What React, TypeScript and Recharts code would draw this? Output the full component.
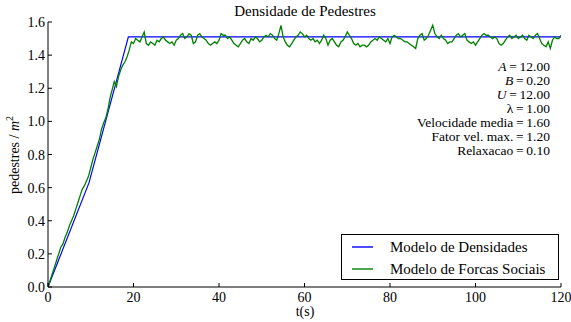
import { Legend, Line, LineChart, XAxis, YAxis } from "recharts";

// Modelo de Densidades: (t, densidade) breakpoints
const densityTimes = [0, 9.6, 18.8, 120];
const densityValues = [0, 0.63, 1.51, 1.51];

// Modelo de Forcas Sociais: samples every 0.5 s from t = 0 to t = 120
const socialTimeStep = 0.5;
const socialValues = [
  0.0, 0.04, 0.08, 0.12, 0.16, 0.2, 0.24, 0.26, 0.3, 0.33,
  0.37, 0.4, 0.43, 0.47, 0.51, 0.55, 0.59, 0.61, 0.64, 0.67,
  0.72, 0.77, 0.81, 0.85, 0.89, 0.95, 0.99, 1.02, 1.07, 1.14,
  1.19, 1.24, 1.21, 1.27, 1.31, 1.34, 1.36, 1.39, 1.43, 1.48,
  1.47, 1.5, 1.49, 1.48, 1.51, 1.54, 1.47, 1.46, 1.48, 1.47,
  1.46, 1.49, 1.48, 1.5, 1.51, 1.49, 1.48, 1.47, 1.48, 1.46,
  1.49, 1.5, 1.52, 1.53, 1.5, 1.51, 1.53, 1.52, 1.47, 1.48,
  1.52, 1.53, 1.51, 1.5, 1.49, 1.47, 1.46, 1.47, 1.48, 1.47,
  1.49, 1.53, 1.52, 1.52, 1.5, 1.51, 1.49, 1.47, 1.46, 1.45,
  1.47, 1.49, 1.5, 1.48, 1.47, 1.5, 1.49, 1.51, 1.5, 1.48,
  1.49, 1.51, 1.52, 1.51, 1.53, 1.52, 1.5, 1.49, 1.53, 1.58,
  1.51, 1.48, 1.46, 1.45, 1.47, 1.49, 1.51, 1.52, 1.54, 1.53,
  1.51, 1.52, 1.5, 1.49, 1.5, 1.48, 1.49, 1.47, 1.49, 1.52,
  1.5, 1.46, 1.49, 1.5, 1.48, 1.46, 1.45, 1.48, 1.49, 1.51,
  1.54, 1.52, 1.5, 1.47, 1.46, 1.47, 1.45, 1.46, 1.46, 1.45,
  1.46, 1.48, 1.49, 1.5, 1.49, 1.51, 1.5, 1.49, 1.48, 1.5,
  1.47, 1.51, 1.52, 1.51, 1.5, 1.5, 1.49, 1.48, 1.48, 1.47,
  1.46, 1.45, 1.44, 1.5, 1.52, 1.53, 1.49, 1.5, 1.52, 1.55,
  1.58, 1.53, 1.51, 1.5, 1.52, 1.5, 1.49, 1.47, 1.48, 1.48,
  1.5, 1.52, 1.53, 1.51, 1.52, 1.53, 1.49, 1.48, 1.47, 1.48,
  1.46, 1.48, 1.5, 1.52, 1.53, 1.52, 1.52, 1.51, 1.5, 1.51,
  1.5, 1.47, 1.46, 1.47, 1.49, 1.51, 1.52, 1.5, 1.51, 1.52,
  1.5, 1.51, 1.52, 1.5, 1.49, 1.52, 1.51, 1.5, 1.52, 1.53,
  1.5, 1.47, 1.46, 1.45, 1.48, 1.44, 1.49, 1.51, 1.5, 1.5,
  1.52,
];

const xTicks = [0, 20, 40, 60, 80, 100, 120];
const yTicks = [0, 0.2, 0.4, 0.6, 0.8, 1.0, 1.2, 1.4, 1.6];

const params = [
  { name: "A", italic: true, value: "12.00" },
  { name: "B", italic: true, value: "0.20" },
  { name: "U", italic: true, value: "12.00" },
  { name: "λ", italic: false, value: "1.00" },
  { name: "Velocidade media", italic: false, value: "1.60" },
  { name: "Fator vel. max.", italic: false, value: "1.20" },
  { name: "Relaxacao", italic: false, value: "0.10" },
];

const densityData = densityTimes.map((t, i) => ({ t, v: densityValues[i] }));
const socialData = socialValues.map((v, i) => ({ t: i * socialTimeStep, v }));

const W = 571;
const H = 322;
const plot = { left: 48, top: 22, right: 561, bottom: 287 };
const font = "Liberation Serif";
const TICK = 4;

const BottomTick = ({ x, y, payload }: any) => (
  <g>
    <line x1={x} y1={y} x2={x} y2={y - TICK} stroke="#000" />
    <text x={x} y={y + 15} textAnchor="middle" fontSize={14} fontFamily={font} fill="#000">
      {payload.value}
    </text>
  </g>
);
const TopTick = ({ x, y }: any) => <line x1={x} y1={y} x2={x} y2={y + TICK} stroke="#000" />;
const LeftTick = ({ x, y, payload }: any) => (
  <g>
    <line x1={x} y1={y} x2={x + TICK} y2={y} stroke="#000" />
    <text x={x - 3} y={y + 5} textAnchor="end" fontSize={14} fontFamily={font} fill="#000">
      {Number(payload.value).toFixed(1)}
    </text>
  </g>
);
const RightTick = ({ x, y }: any) => <line x1={x} y1={y} x2={x - TICK} y2={y} stroke="#000" />;

function LegendBox() {
  const rows = [
    { label: "Modelo de Densidades", color: "#0000ff" },
    { label: "Modelo de Forcas Sociais", color: "#008000" },
  ];
  return (
    <div
      style={{
        border: "1px solid #000",
        background: "#fff",
        width: 216,
        height: 43,
        boxSizing: "content-box",
        fontFamily: font,
        fontSize: 15,
        paddingTop: 1,
      }}
    >
      {rows.map((r) => (
        <div key={r.label} style={{ display: "flex", alignItems: "center", height: 22 }}>
          <svg width={21} height={4} style={{ marginLeft: 10, marginRight: 17 }}>
            <line x1={0} y1={2} x2={21} y2={2} stroke={r.color} strokeWidth={1.4} />
          </svg>
          <span style={{ whiteSpace: "nowrap", color: "#000" }}>{r.label}</span>
        </div>
      ))}
    </div>
  );
}

export default function App() {
  return (
    <div style={{ position: "absolute", left: 0, top: 0, width: W, height: H, background: "#fff", fontFamily: font }}>
      <LineChart
        width={W}
        height={H}
        margin={{ top: plot.top, right: W - plot.right, bottom: 0, left: 0 }}
      >
        <XAxis
          xAxisId="bottom"
          dataKey="t"
          type="number"
          domain={[0, 120]}
          ticks={xTicks}
          allowDataOverflow
          height={H - plot.bottom}
          tickSize={0}
          tickMargin={0}
          tickLine={false}
          axisLine={{ stroke: "#000" }}
          tick={<BottomTick />}
          interval={0}
        />
        <XAxis
          xAxisId="top"
          orientation="top"
          dataKey="t"
          type="number"
          domain={[0, 120]}
          ticks={xTicks}
          allowDataOverflow
          height={0}
          tickSize={0}
          tickMargin={0}
          tickLine={false}
          axisLine={{ stroke: "#000" }}
          tick={<TopTick />}
          interval={0}
        />
        <YAxis
          yAxisId="left"
          type="number"
          domain={[0, 1.6]}
          ticks={yTicks}
          allowDataOverflow
          width={plot.left}
          tickSize={0}
          tickMargin={0}
          tickLine={false}
          axisLine={{ stroke: "#000" }}
          tick={<LeftTick />}
          interval={0}
        />
        <YAxis
          yAxisId="right"
          orientation="right"
          type="number"
          domain={[0, 1.6]}
          ticks={yTicks}
          allowDataOverflow
          width={0}
          tickSize={0}
          tickMargin={0}
          tickLine={false}
          axisLine={{ stroke: "#000" }}
          tick={<RightTick />}
          interval={0}
        />
        <Legend
          layout="vertical"
          align="center"
          verticalAlign="middle"
          content={<LegendBox />}
          wrapperStyle={{ left: 341, top: 234, width: 220, height: 46 }}
        />
        <Line
          xAxisId="bottom"
          yAxisId="left"
          data={densityData}
          dataKey="v"
          name="Modelo de Densidades"
          type="linear"
          stroke="#0000ff"
          strokeWidth={1.2}
          dot={false}
          isAnimationActive={false}
        />
        <Line
          xAxisId="bottom"
          yAxisId="left"
          data={socialData}
          dataKey="v"
          name="Modelo de Forcas Sociais"
          type="linear"
          stroke="#008000"
          strokeWidth={1.3}
          dot={false}
          isAnimationActive={false}
        />
      </LineChart>
      <svg
        width={W}
        height={H}
        style={{ position: "absolute", left: 0, top: 0, pointerEvents: "none", fontFamily: font }}
      >
        <text x={305} y={16} textAnchor="middle" fontSize={15} fill="#000">
          Densidade de Pedestres
        </text>
        <text x={305} y={316} textAnchor="middle" fontSize={14} fill="#000">
          t(s)
        </text>
        <text transform="translate(19,155) rotate(-90)" textAnchor="middle" fontSize={14} fill="#000">
          pedestres / <tspan fontStyle="italic">m</tspan>
          <tspan fontSize={10} dy={-6}>2</tspan>
        </text>
        {params.map((p, i) => (
          <text
            key={p.name}
            x={550}
            y={71 + i * 14}
            textAnchor="end"
            fontSize={13.5}
            fill="#000"
          >
            <tspan fontStyle={p.italic ? "italic" : "normal"}>{p.name}</tspan>
            {"\u2009=\u2009" + p.value}
          </text>
        ))}
      </svg>
    </div>
  );
}
